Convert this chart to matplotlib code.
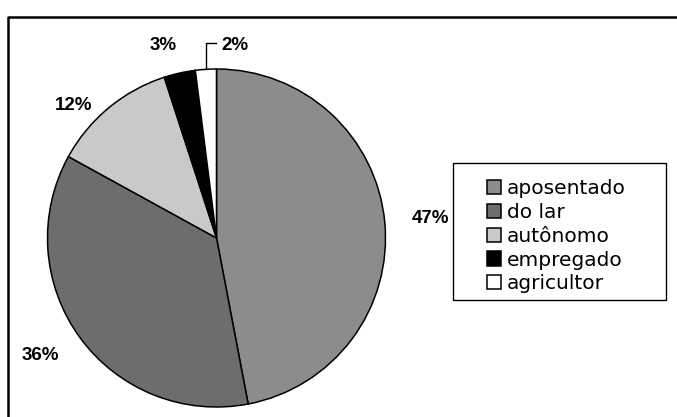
import matplotlib.pyplot as plt
from matplotlib.patches import Rectangle

categories = ["aposentado", "do lar", "autônomo", "empregado", "agricultor"]
values = [47, 36, 12, 3, 2]
pct_labels = ["47%", "36%", "12%", "3%", "2%"]
colors = ["#8c8c8c", "#6d6d6d", "#c9c9c9", "#000000", "#ffffff"]

W, H = 677, 417
fig = plt.figure(figsize=(W / 100, H / 100), dpi=100)
ax = fig.add_axes([0, 0, 1, 1])

# pie drawn in pixel-like data coords
cx, cy, r = 216.5, H - 238, 169
wedges, _ = ax.pie(values, colors=colors, startangle=90, counterclock=False,
                   center=(cx, cy), radius=r, frame=True,
                   wedgeprops=dict(edgecolor="black", linewidth=1.1))
ax.set_xlim(0, W)
ax.set_ylim(0, H)
ax.axis("off")

# outer frame (only top and left edges visible)
ax.plot([8, 8, W], [0, H - 17, H - 17], color="black", lw=1.8, clip_on=False)

# percentage labels
lab_font = dict(family="Liberation Sans", fontsize=13.5, fontweight="bold",
                ha="center", va="center")
label_pos = [(430, 218), (40, 355), (74, 105), (163, 45), (235, 45)]
for txt, (x, y) in zip(pct_labels, label_pos):
    ax.text(x, H - y, txt, **lab_font)

# bracket leader for the 2% slice
ax.plot([206, 206, 216], [H - 69, H - 43, H - 43], color="black", lw=1.0)

# legend
ax.add_patch(Rectangle((453, H - 300), 213, 137, fill=False,
                       edgecolor="black", lw=1.0))
leg = ax.legend(wedges, categories, loc="upper left",
                bbox_to_anchor=(477 / W, (H - 169) / H),
                frameon=False, handlelength=0.7, handleheight=0.7,
                handletextpad=0.3, labelspacing=0.24, borderpad=0,
                prop=dict(family="DejaVu Sans", size=14.5))

fig.savefig("out.png", dpi=100, facecolor="white")
